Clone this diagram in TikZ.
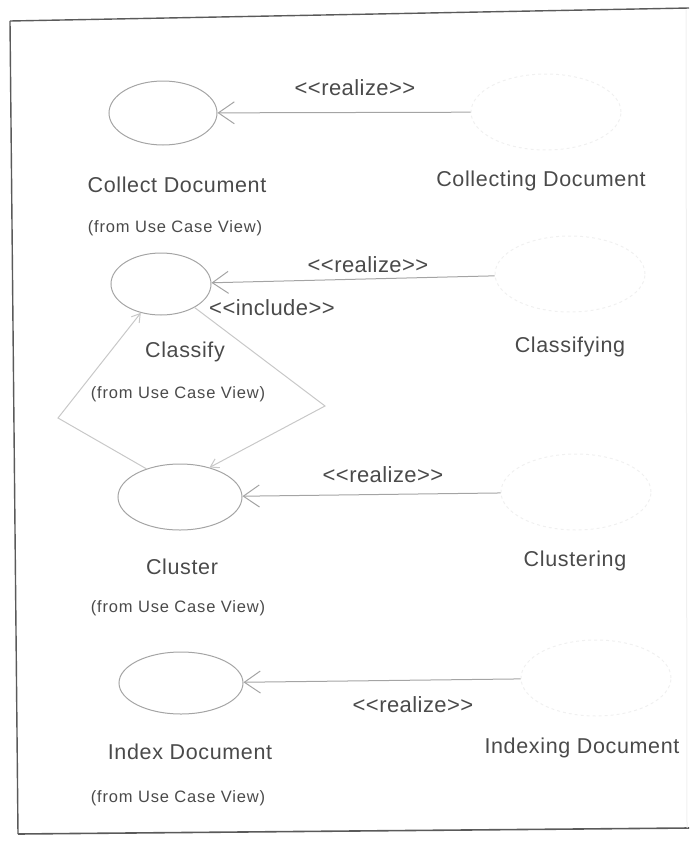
\documentclass[tikz,border=0pt]{standalone}
\usepackage{fontspec}
\setmainfont{Liberation Sans}
\newfontfamily\namefont[LetterSpace=3]{Liberation Sans}
\newfontfamily\smallfont[LetterSpace=5]{Liberation Sans}
\newfontfamily\stereofont[LetterSpace=2]{Liberation Sans}
\usetikzlibrary{arrows.meta,shapes.geometric}
\definecolor{ink}{HTML}{4A4A4A}
\definecolor{edge}{HTML}{A4A4A4}
\definecolor{faint}{HTML}{F0F0F0}
\definecolor{framecol}{HTML}{5A5A5A}
\newcommand\stereotype[1]{<{}<#1>{}>}
\begin{document}
\begin{tikzpicture}[x=1pt,y=-1pt,
  usecase/.style={draw=edge, line width=1pt, ellipse, inner sep=0pt,
                  minimum width=#1, minimum height=64pt},
  collab/.style={draw=faint, line width=1pt, dashed, ellipse, inner sep=0pt,
                 minimum width=150pt, minimum height=76pt},
  ucname/.style={font=\namefont\fontsize{21.5}{25}\selectfont, text=ink, inner sep=0pt},
  origin/.style={font=\smallfont\fontsize{16.5}{19}\selectfont, text=ink, inner sep=0pt},
  stereo/.style={font=\stereofont\fontsize{22}{26}\selectfont, text=ink, inner sep=0pt},
  realize/.style={draw=edge, line width=1pt,
                  -{Straight Barb[length=16pt,width=22pt,line width=1pt]}},
  include/.style={draw=edge!60, line width=1pt,
                  -{Straight Barb[length=8pt,width=10pt,line width=1pt]}}
]
\useasboundingbox (0,0) rectangle (689,841);

% frame of the diagram
\draw[framecol, line width=1.4pt] (10,21) -- (689,8);
\draw[framecol, line width=1.4pt] (10,21) -- (18,834);
\draw[framecol, line width=1.6pt] (18,834) -- (689,828);
\draw[faint, line width=1pt] (686,10) -- (687,828);

% use cases
\node[usecase=108pt] (uc1) at (163,113) {};
\node[usecase=100pt, minimum height=62pt] (uc2) at (161,284) {};
\node[usecase=124pt, minimum height=66pt] (uc3) at (180,497) {};
\node[usecase=124pt, minimum height=62pt] (uc4) at (181,683) {};

% realizing collaborations
\node[collab] (co1) at (546,112) {};
\node[collab] (co2) at (570,274) {};
\node[collab] (co3) at (576,492) {};
\node[collab] (co4) at (596,678) {};

% names
\node[ucname] (n1) at (177,185) {Collect Document};
\node[ucname] (n2) at (185,352) {Classify};
\node[ucname] (n3) at (182,567) {Cluster};
\node[ucname] (n4) at (190,752) {Index Document};
\node[ucname] (m1) at (541,181) {Collecting Document};
\node[ucname] (m2) at (570,347) {Classifying};
\node[ucname] (m3) at (575,561) {Clustering};
\node[ucname] (m4) at (582,748) {Indexing Document};

\node[origin] (o1) at (175,228) {(from Use Case View)};
\node[origin] (o2) at (178,394) {(from Use Case View)};
\node[origin] (o3) at (178,608) {(from Use Case View)};
\node[origin] (o4) at (178,798) {(from Use Case View)};

% realization dependencies
\draw[realize] (co1) -- (uc1);
\draw[realize] (co2) -- (uc2);
\draw[realize] (co3) -- (uc3);
\draw[realize] (co4) -- (uc4);

\node[stereo] (s1) at (355,88) {\stereotype{realize}};
\node[stereo] (s2) at (368,265) {\stereotype{realize}};
\node[stereo] (s3) at (383,475) {\stereotype{realize}};
\node[stereo] (s4) at (413,705) {\stereotype{realize}};
\node[stereo] (s5) at (272,308) {\stereotype{include}};

% include relations between Classify and Cluster
\coordinate (kl) at (58,418);
\coordinate (kr) at (325,406);
\draw[include] (uc3.140) -- (kl) -- (uc2.235);
\draw[include] (uc2.-35) -- (kr) -- (uc3.45);
\end{tikzpicture}
\end{document}
